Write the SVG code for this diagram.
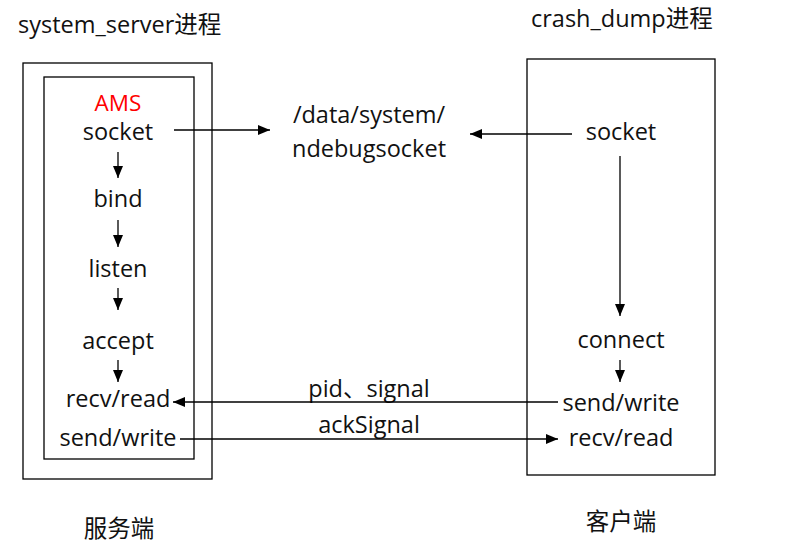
<svg xmlns="http://www.w3.org/2000/svg" width="787" height="557" viewBox="0 0 787 557">
<defs>
<marker id="ah" viewBox="0 0 12 10" refX="12" refY="5" markerWidth="12" markerHeight="10" markerUnits="userSpaceOnUse" orient="auto">
<path d="M0,0 L12,5 L0,10 Z" fill="#000"/>
</marker>
</defs>
<style>
text{font-family:"Open Sans","Noto Sans","Noto Sans CJK SC",sans-serif;font-size:23.5px;fill:#111;}
.c{text-anchor:middle;}
.box{fill:none;stroke:#000;stroke-width:1.3;}
.ln{fill:none;stroke:#000;stroke-width:1.3;marker-end:url(#ah);}
</style>
<rect width="787" height="557" fill="#fff"/>
<text x="18" y="33" font-size="22.5">system_server进程</text>
<text x="531" y="27" font-size="22.5">crash_dump进程</text>
<g id="server">
<rect class="box" x="23" y="63" width="189" height="416"/>
<rect class="box" x="44" y="77" width="150" height="382"/>
<text class="c" x="118" y="111" style="fill:#f00;font-size:22.5px">AMS</text>
<text class="c" x="118" y="140">socket</text>
<text class="c" x="118" y="207">bind</text>
<text class="c" x="118" y="277">listen</text>
<text class="c" x="118" y="349">accept</text>
<text class="c" x="118" y="407">recv/read</text>
<text class="c" x="118" y="446">send/write</text>
</g>
<g id="path">
<text class="c" x="369" y="123">/data/system/</text>
<text class="c" x="369" y="157">ndebugsocket</text>
</g>
<g id="client">
<rect class="box" x="527" y="59" width="188" height="416"/>
<text class="c" x="621" y="140">socket</text>
<text class="c" x="621" y="348">connect</text>
<text class="c" x="621" y="411">send/write</text>
<text class="c" x="621" y="446">recv/read</text>
</g>
<g id="labels">
<text class="c" x="119" y="537" font-size="22">服务端</text>
<text class="c" x="621" y="530" font-size="22">客户端</text>
<text class="c" x="369" y="397">pid、signal</text>
<text class="c" x="369" y="433">ackSignal</text>
</g>
<g id="connectors">
<line class="ln" x1="174" y1="130" x2="270" y2="130"/>
<line class="ln" x1="572" y1="134" x2="470" y2="134"/>
<line class="ln" x1="118" y1="152" x2="118" y2="178"/>
<line class="ln" x1="118" y1="220" x2="118" y2="247"/>
<line class="ln" x1="118" y1="288" x2="118" y2="310"/>
<line class="ln" x1="118" y1="360" x2="118" y2="382"/>
<line class="ln" x1="620" y1="156" x2="620" y2="316"/>
<line class="ln" x1="620" y1="360" x2="620" y2="382"/>
<line class="ln" x1="558" y1="402" x2="173" y2="402"/>
<line class="ln" x1="180" y1="439" x2="558" y2="439"/>
</g>
</svg>
